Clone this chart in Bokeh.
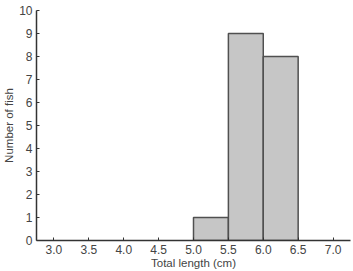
from bokeh.plotting import figure
from bokeh.models import Range1d, FixedTicker
from bokeh.embed import file_html
from bokeh.resources import INLINE

bin_left = [5.0, 5.5, 6.0]
bin_right = [5.5, 6.0, 6.5]
counts = [1, 9, 8]
x_ticks = [3.0, 3.5, 4.0, 4.5, 5.0, 5.5, 6.0, 6.5, 7.0]
x_labels = ["3.0", "3.5", "4.0", "4.5", "5.0", "5.5", "6.0", "6.5", "7.0"]
y_ticks = list(range(0, 11))
x_title = "Total length (cm)"
y_title = "Number of fish"

p = figure(width=353, height=271, output_backend="svg", toolbar_location=None,
           x_range=Range1d(2.75, 7.25), y_range=Range1d(0, 10),
           min_border_left=0, min_border_right=3, min_border_top=10, min_border_bottom=0)
p.outline_line_color = None
p.xgrid.visible = False
p.ygrid.visible = False
p.background_fill_color = "white"

p.quad(left=bin_left, right=bin_right, bottom=0, top=counts,
       fill_color="#c6c6c6", line_color="#505050", line_width=1.5)

for ax in (p.xaxis[0], p.yaxis[0]):
    ax.axis_line_color = "#333333"
    ax.axis_line_width = 1.5
    ax.major_tick_line_color = "#333333"
    ax.major_tick_in = 3
    ax.major_tick_out = 0
    ax.minor_tick_line_color = None
    ax.major_label_text_font = "Liberation Sans"
    ax.major_label_text_font_size = "12px"
    ax.major_label_text_color = "#444444"
    ax.axis_label_text_font = "Liberation Sans"
    ax.axis_label_text_font_size = "11.5px"
    ax.axis_label_text_font_style = "normal"
    ax.axis_label_text_color = "#444444"

p.xaxis.ticker = FixedTicker(ticks=x_ticks)
p.xaxis.major_label_overrides = {t: l for t, l in zip(x_ticks, x_labels)}
p.xaxis.major_label_standoff = 4
p.xaxis.axis_label = x_title
p.xaxis.axis_label_standoff = 0
p.yaxis.ticker = FixedTicker(ticks=y_ticks)
p.yaxis.major_label_standoff = 4
p.yaxis.axis_label = y_title
p.yaxis.axis_label_standoff = 1

open("out.html", "w").write(file_html(p, INLINE))
